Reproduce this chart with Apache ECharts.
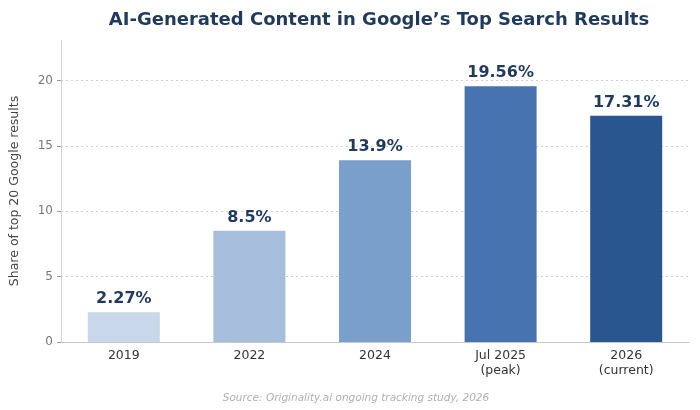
<!DOCTYPE html>
<html>
<head>
<meta charset="utf-8">
<script src="https://cdn.jsdelivr.net/npm/echarts@6/dist/echarts.min.js"></script>
<style>
  html, body { margin: 0; padding: 0; background: #fff; }
  #chart { width: 700px; height: 410px; }
</style>
</head>
<body>
<div id="chart"></div>
<script>
// chart data
var categories = ['2019', '2022', '2024', 'Jul 2025\n(peak)', '2026\n(current)'];
var shareValues = [2.27, 8.5, 13.9, 19.56, 17.31];
var valueLabels = ['2.27%', '8.5%', '13.9%', '19.56%', '17.31%'];
var barColors = ['#c8d7ea', '#a6bddb', '#7b9fcb', '#4774b0', '#2a5690'];

var navy = '#1f3a5c';
var font = 'DejaVu Sans';

var chart = echarts.init(document.getElementById('chart'), null, {renderer: 'canvas'});

var barData = [];
for (var i = 0; i < shareValues.length; i++) {
    barData.push({
        value: shareValues[i],
        itemStyle: { color: barColors[i] },
        label: { formatter: valueLabels[i] }
    });
}

chart.setOption({
    animation: false,
    title: [
        {
            text: 'AI-Generated Content in Google\u2019s Top Search Results',
            left: 374,
            top: 6,
            textAlign: 'center',
            textStyle: { color: navy, fontSize: 18, fontWeight: 'bold', fontFamily: font }
        },
        {
            text: 'Source: Originality.ai ongoing tracking study, 2026',
            left: 351,
            top: 388,
            textAlign: 'center',
            textStyle: { color: '#b0b0b0', fontSize: 10.5, fontStyle: 'italic', fontWeight: 'normal', fontFamily: font }
        }
    ],
    grid: { left: 59, right: 11, top: 40, bottom: 68 },
    xAxis: {
        type: 'category',
        data: categories,
        axisLine: { lineStyle: { color: '#c8c8c8' } },
        axisTick: { alignWithLabel: true, length: 4, lineStyle: { color: '#888' } },
        axisLabel: { color: '#333', fontSize: 12.5, fontFamily: font, margin: 6, lineHeight: 15 }
    },
    yAxis: {
        type: 'value',
        min: 0,
        max: 23.1,
        interval: 5,
        name: 'Share of top 20 Google results',
        nameLocation: 'middle',
        nameGap: 40,
        nameTextStyle: { color: '#444', fontSize: 12.5, fontFamily: font },
        axisLine: { show: true, lineStyle: { color: '#cccccc', type: 'dotted' } },
        axisTick: { show: true, length: 4, lineStyle: { color: '#999' } },
        axisLabel: { color: '#777', fontSize: 12, fontFamily: font, showMaxLabel: false, margin: 8,
            formatter: function (v) { return v % 5 === 0 ? String(v) : ''; } },
        splitLine: { show: true, showMinLine: false, showMaxLine: false,
            lineStyle: { color: '#d0d0d0', type: [2, 3] } }
    },
    series: [{
        type: 'bar',
        data: barData,
        barWidth: 72,
        label: {
            show: true,
            position: 'top',
            distance: 5,
            color: navy,
            fontSize: 16,
            fontWeight: 'bold',
            fontFamily: font
        }
    }]
});
</script>
</body>
</html>
